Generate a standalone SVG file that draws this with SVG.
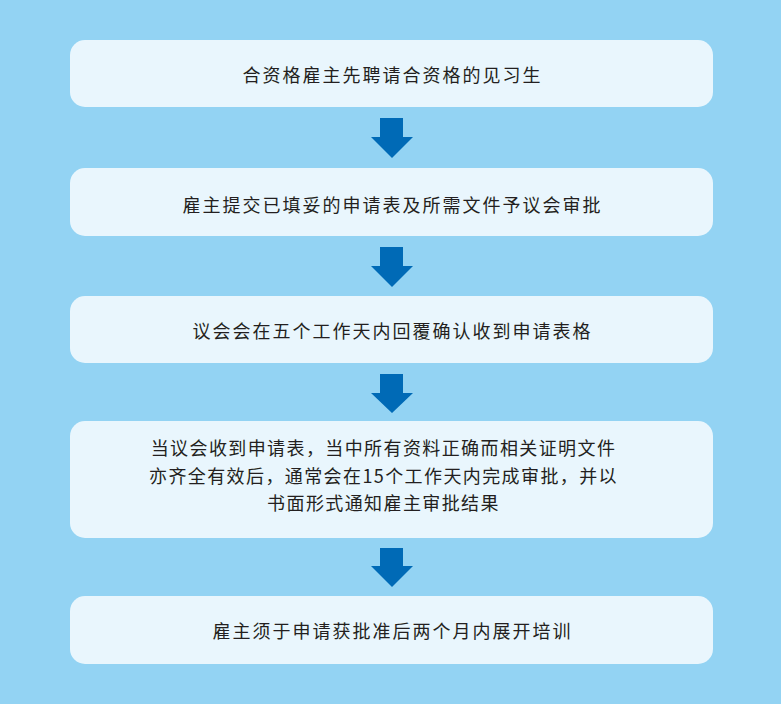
<svg xmlns="http://www.w3.org/2000/svg" width="781" height="704" viewBox="0 0 781 704">
<style>
.box{fill:#E9F6FD;}
.t{font-family:"Noto Sans CJK SC","Noto Sans",sans-serif;font-size:18px;fill:#231F20;text-anchor:middle;letter-spacing:2px;}
.t4{letter-spacing:1.4px;}
.arr{fill:#006AB6;}
</style>
<rect x="0" y="0" width="781" height="704" fill="#93D3F3"/>
<g id="node1"><rect class="box" x="70" y="40" width="643" height="67" rx="15"/><text class="t" x="392.5" y="81.5">合资格雇主先聘请合资格的见习生</text></g>
<g id="node2"><rect class="box" x="70" y="168" width="643" height="68" rx="15"/><text class="t" x="392.5" y="211.5">雇主提交已填妥的申请表及所需文件予议会审批</text></g>
<g id="node3"><rect class="box" x="70" y="296" width="643" height="67" rx="15"/><text class="t" x="392.5" y="337.5">议会会在五个工作天内回覆确认收到申请表格</text></g>
<g id="node4"><rect class="box" x="70" y="421" width="643" height="117" rx="15"/>
<text class="t t4" x="383.5" y="455">当议会收到申请表，当中所有资料正确而相关证明文件</text>
<text class="t t4" x="383.5" y="482.5">亦齐全有效后，通常会在15个工作天内完成审批，并以</text>
<text class="t t4" x="383.5" y="510">书面形式通知雇主审批结果</text></g>
<g id="node5"><rect class="box" x="70" y="596" width="643" height="68" rx="15"/><text class="t" x="392.5" y="637.5">雇主须于申请获批准后两个月内展开培训</text></g>
<g id="connectors">
<polygon class="arr" points="380,118 403,118 403,137 413,137 392,158 371,137 380,137"/>
<polygon class="arr" points="380,247 403,247 403,266 413,266 392,287 371,266 380,266"/>
<polygon class="arr" points="380,374 403,374 403,393 413,393 392,413 371,393 380,393"/>
<polygon class="arr" points="380,548 403,548 403,566 413,566 392,587 371,566 380,566"/>
</g>
</svg>
